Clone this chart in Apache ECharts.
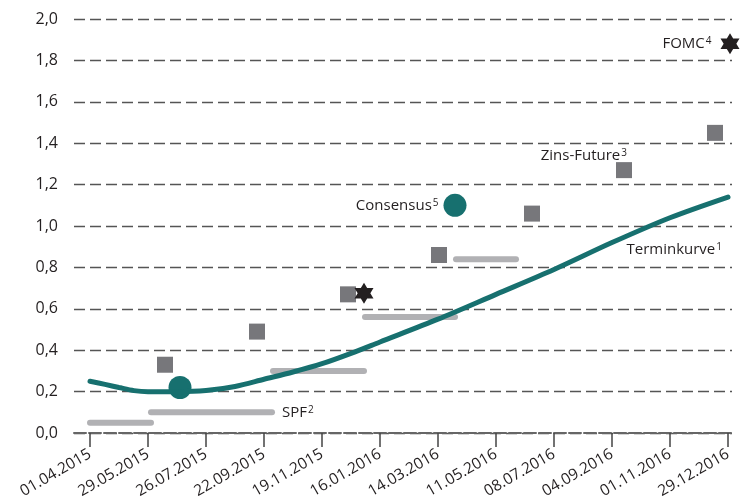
<!DOCTYPE html>
<html>
<head>
<meta charset="utf-8">
<script src="https://cdn.jsdelivr.net/npm/echarts@6/dist/echarts.min.js"></script>
<style>
    html, body { margin: 0; padding: 0; background: #fff; }
    #chart_box { width: 747px; height: 501px; }
</style>
</head>
<body>
<div id="chart_box"></div>
<script>
// Achsenbeschriftung (Datum)
var tickLabels = ['01.04.2015', '29.05.2015', '26.07.2015', '22.09.2015', '19.11.2015', '16.01.2016',
    '14.03.2016', '11.05.2016', '08.07.2016', '04.09.2016', '01.11.2016', '29.12.2016'];
var axisFrom = '16.03.2015';
var axisTo = '02.01.2017';

// Terminkurve
var termDates = ['01.04.2015', '16.04.2015', '30.04.2015', '15.05.2015', '29.05.2015', '27.06.2015',
    '26.07.2015', '24.08.2015', '22.09.2015', '21.10.2015', '19.11.2015', '18.12.2015', '16.01.2016',
    '14.03.2016', '11.05.2016', '08.07.2016', '04.09.2016', '01.11.2016', '29.12.2016'];
var termValues = [0.25, 0.235, 0.22, 0.205, 0.20, 0.20, 0.205, 0.225, 0.26, 0.295, 0.335, 0.385, 0.44,
    0.55, 0.67, 0.79, 0.92, 1.04, 1.14];

// SPF (Zeitraum von - bis)
var spfFrom = ['01.04.2015', '01.06.2015', '01.10.2015', '01.01.2016', '01.04.2016'];
var spfTo = ['01.06.2015', '30.09.2015', '31.12.2015', '31.03.2016', '31.05.2016'];
var spfValues = [0.05, 0.10, 0.30, 0.56, 0.84];

// Zins-Future
var futureDates = ['15.06.2015', '15.09.2015', '15.12.2015', '15.03.2016', '16.06.2016', '16.09.2016', '16.12.2016'];
var futureValues = [0.33, 0.49, 0.67, 0.86, 1.06, 1.27, 1.45];

// Consensus
var consDates = ['30.06.2015', '31.03.2016'];
var consValues = [0.22, 1.10];

// FOMC
var fomcDates = ['31.12.2015', '31.12.2016'];
var fomcValues = [0.675, 1.88];

(function() {

    // Tage seit 01.04.2015
    function toDay(s) {
        var p = s.split('.');
        return Math.round((Date.UTC(+p[2], +p[1] - 1, +p[0]) - Date.UTC(2015, 3, 1)) / 86400000);
    }

    function pairs(dates, values) {
        var out = [];
        for (var i = 0; i < dates.length; i++) {
            out.push([toDay(dates[i]), values[i]]);
        }
        return out;
    }

    var tickDays = tickLabels.map(toDay);
    var labelByDay = {};
    for (var i = 0; i < tickDays.length; i++) {
        labelByDay[tickDays[i]] = tickLabels[i];
    }

    var fontFamily = '"Open Sans", sans-serif';
    var textColor = '#231f20';
    var teal = '#17706f';
    var rich = {
        t: { fontSize: 15, color: textColor, fontFamily: fontFamily },
        s: { fontSize: 10, color: textColor, fontFamily: fontFamily, verticalAlign: 'top', padding: [0, 0, 0, 1] }
    };
    var star = 'path://M0,-10 L2.887,-5 L8.66,-5 L5.774,0 L8.66,5 L2.887,5 L0,10 L-2.887,5 L-8.66,5 L-5.774,0 L-8.66,-5 L-2.887,-5 Z';

    var series = [];

    // SPF Balken
    for (var k = 0; k < spfValues.length; k++) {
        series.push({
            type: 'line',
            silent: true,
            symbol: 'none',
            lineStyle: { color: '#b1b1b4', width: 6, cap: 'round' },
            data: [[toDay(spfFrom[k]), spfValues[k]], [toDay(spfTo[k]), spfValues[k]]],
            endLabel: k === 1 ? {
                show: true,
                distance: 10,
                formatter: '{t|SPF}{s|2}',
                rich: rich
            } : { show: false }
        });
    }

    series.push({
        name: 'Terminkurve',
        type: 'line',
        smooth: 0.3,
        symbol: 'none',
        lineStyle: { color: teal, width: 5, cap: 'round' },
        data: pairs(termDates, termValues),
        endLabel: {
            show: true,
            distance: 0,
            align: 'right',
            verticalAlign: 'middle',
            offset: [-6, 53],
            formatter: '{t|Terminkurve}{s|1}',
            rich: rich
        }
    });

    series.push({
        name: 'Zins-Future',
        type: 'scatter',
        symbol: 'rect',
        symbolSize: 16,
        itemStyle: { color: '#77777b', opacity: 1 },
        data: pairs(futureDates, futureValues).map(function(d, i) {
            if (i !== 5) return d;
            return {
                value: d,
                label: {
                    show: true,
                    position: [11, -6],
                    align: 'right',
                    verticalAlign: 'middle',
                    formatter: '{t|Zins-Future}{s|3}',
                    rich: rich
                }
            };
        })
    });

    series.push({
        name: 'Consensus',
        type: 'scatter',
        symbol: 'circle',
        symbolSize: 23,
        itemStyle: { color: teal, opacity: 1 },
        data: pairs(consDates, consValues).map(function(d, i) {
            if (i !== 1) return d;
            return {
                value: d,
                label: {
                    show: true,
                    position: 'left',
                    distance: 5,
                    formatter: '{t|Consensus}{s|5}',
                    rich: rich
                }
            };
        })
    });

    series.push({
        name: 'FOMC',
        type: 'scatter',
        symbol: star,
        symbolSize: [19, 21],
        clip: false,
        itemStyle: { color: '#231f20', opacity: 1 },
        data: pairs(fomcDates, fomcValues).map(function(d, i) {
            if (i !== 1) return d;
            return {
                value: d,
                label: {
                    show: true,
                    position: 'left',
                    distance: 9,
                    formatter: '{t|FOMC}{s|4}',
                    rich: rich
                }
            };
        })
    });

    var myChart = echarts.init(document.getElementById('chart_box'));
    myChart.setOption({
        animation: false,
        grid: { left: 74, right: 15, top: 19, bottom: 67 },
        xAxis: {
            type: 'value',
            min: toDay(axisFrom),
            max: toDay(axisTo),
            splitLine: { show: false },
            axisLine: { lineStyle: { color: '#666', width: 2, type: [12, 3] } },
            axisTick: {
                customValues: tickDays,
                length: 14,
                lineStyle: { color: '#444', width: 1.5 }
            },
            axisLabel: {
                customValues: tickDays,
                rotate: 30,
                margin: 20,
                fontSize: 15.5,
                color: textColor,
                fontFamily: fontFamily,
                formatter: function(v) {
                    return labelByDay[v] || '';
                }
            }
        },
        yAxis: {
            type: 'value',
            min: 0,
            max: 2,
            interval: 0.2,
            axisLine: { show: false },
            axisTick: { show: false },
            splitLine: { lineStyle: { color: '#555', width: 1.3, type: [11, 5] } },
            axisLabel: {
                margin: 16,
                fontSize: 16,
                color: textColor,
                fontFamily: fontFamily,
                formatter: function(v) {
                    return v.toFixed(1).replace('.', ',');
                }
            }
        },
        series: series
    });
})();
</script>
</body>
</html>
